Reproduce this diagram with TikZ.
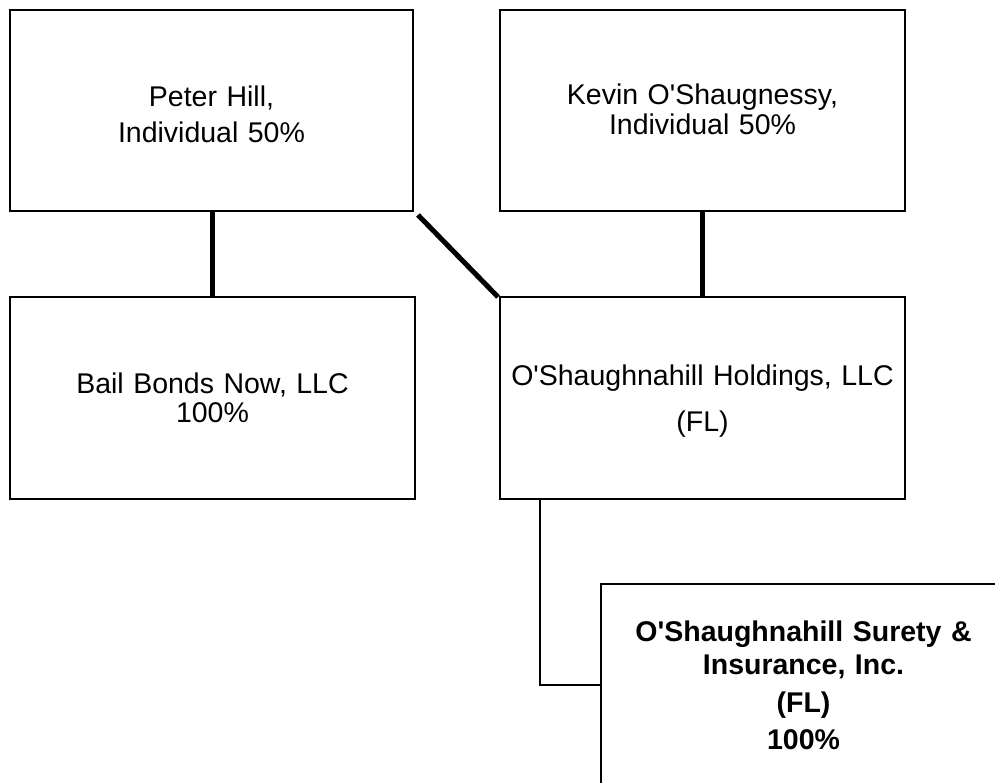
\documentclass[tikz,border=0pt]{standalone}
\usepackage{fontspec}
\setmainfont{Liberation Sans}
\newcommand{\sq}{\textquotesingle}
\begin{document}
\begin{tikzpicture}[x=1pt,y=-1pt,
  box/.style={draw=black,line width=1.2pt,rectangle,inner sep=0pt,outer sep=0pt,
    minimum width=405pt,minimum height=202pt},
  label text/.style={inner sep=0pt,align=center,text width=400pt},
  thick link/.style={line width=5pt,draw=black},
  thin link/.style={line width=1.8pt,draw=black}]
\clip (0,0) rectangle (995,783);
\fill[white] (0,0) rectangle (995,783);
\node[box,minimum width=403pt,minimum height=201pt] (peter) at (211.5,110.5) {};
\node[box,minimum height=201pt] (kevin) at (702.5,110.5) {};
\node[box] (bail) at (212.5,398) {};
\node[box] (hold) at (702.5,398) {};
\node[box] (sur) at (803.5,685) {};
\node[label text,font=\fontsize{28.5}{36}\selectfont] (petert) at (211.5,114)
  {Peter Hill,\\Individual 50\%};
\node[label text,font=\fontsize{28.5}{30}\selectfont] (kevint) at (702.5,109)
  {Kevin O\sq Shaugnessy,\\Individual 50\%};
\node[label text,font=\fontsize{28.5}{29}\selectfont] (bailt) at (212.5,397.5)
  {Bail Bonds Now, LLC\\100\%};
\node[label text,font=\fontsize{28.5}{46}\selectfont] (holdt) at (702.5,401)
  {O\sq Shaughnahill Holdings, LLC\\(FL)};
\node[label text,font=\fontsize{28.5}{33}\selectfont\bfseries] (surt) at (803.5,685)
  {O\sq Shaughnahill Surety \&\\Insurance, Inc.\\[5pt](FL)\\[4pt]100\%};
\coordinate (ptap) at ([xshift=0.5pt]peter.south);
\draw[thick link] (ptap) -- (ptap |- bail.north);
\draw[thick link] (kevin.south) -- (hold.north);
\draw[thick link] ([xshift=5pt,yshift=-4pt]peter.south east) -- ([xshift=-2pt]hold.north west);
\coordinate (holdtap) at ([xshift=40pt]hold.south west);
\draw[thin link] (holdtap) |- (sur.west);
\end{tikzpicture}
\end{document}
